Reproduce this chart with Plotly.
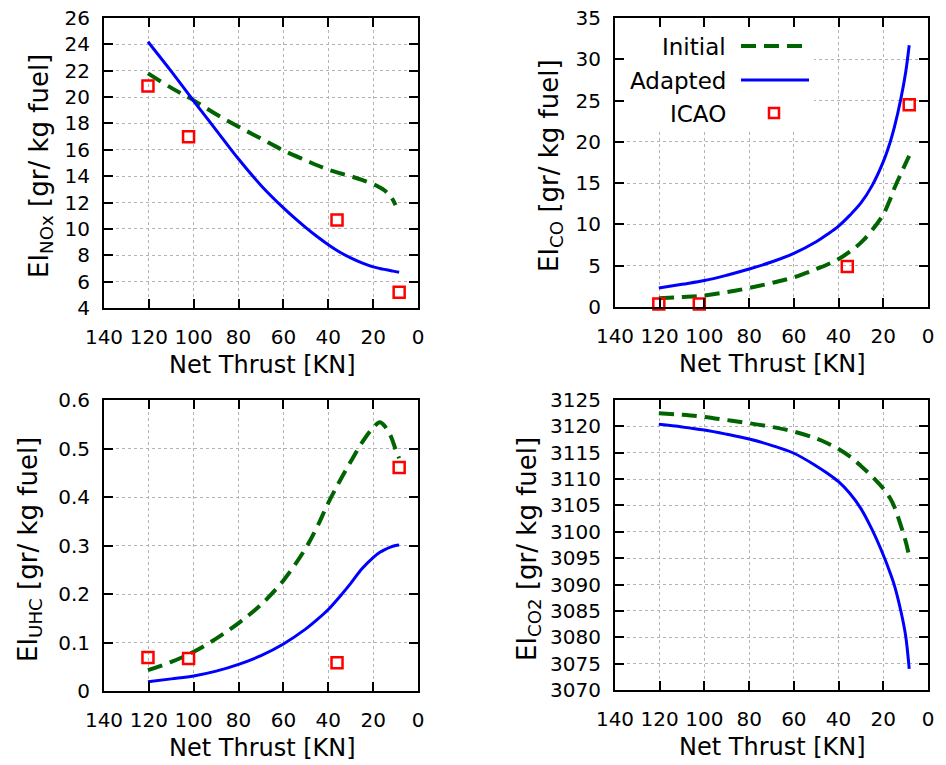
import plotly.graph_objects as go

# ---------------- data ----------------
thrust = [120.4, 110, 100, 90, 80, 70, 60, 50, 45, 40, 35, 30, 25, 20, 17, 15, 12, 10, 8.4]

nox_initial = [21.8, 20.7, 19.75, 18.7, 17.75, 16.85, 15.95, 15.2, 14.83, 14.5, 14.23, 14.0, 13.72, 13.4, 13.15, 12.93, 12.42, 11.8, None]
nox_adapted = [24.2, 21.95, 19.7, 17.5, 15.3, 13.3, 11.6, 10.1, 9.42, 8.8, 8.25, 7.8, 7.42, 7.12, 7.0, 6.93, 6.83, 6.76, 6.71]

co_initial = [1.05, 1.2, 1.4, 1.8, 2.3, 2.9, 3.6, 4.6, 5.15, 5.8, 6.7, 7.8, 9.3, 11.2, 13.0, 14.4, 16.2, 17.4, 18.3]
co_adapted = [2.3, 2.75, 3.2, 3.85, 4.6, 5.45, 6.5, 7.9, 8.8, 9.8, 11.1, 12.6, 14.7, 17.6, 19.9, 21.8, 25.4, 28.4, 31.7]

uhc_initial = [0.043, 0.06, 0.081, 0.108, 0.14, 0.178, 0.228, 0.295, 0.338, 0.388, 0.432, 0.473, 0.512, 0.543, 0.554, 0.547, 0.524, 0.498, 0.48]
uhc_adapted = [0.019, 0.025, 0.031, 0.041, 0.055, 0.073, 0.097, 0.128, 0.147, 0.168, 0.194, 0.222, 0.252, 0.275, 0.286, 0.291, 0.297, 0.3, 0.301]

co2_initial = [3122.5, 3122.2, 3121.8, 3121.2, 3120.6, 3119.9, 3119.0, 3117.7, 3116.8, 3115.7, 3114.3, 3112.5, 3110.5, 3108.2, 3106.4, 3104.7, 3101.0, 3098.2, 3095.4]
co2_adapted = [3120.4, 3119.9, 3119.3, 3118.5, 3117.6, 3116.4, 3114.9, 3112.5, 3111.1, 3109.5, 3107.3, 3104.4, 3100.4, 3095.6, 3092.3, 3089.8, 3084.7, 3080.3, 3074.0]

icao_thrust = [120.4, 102.3, 36.1, 8.4]
icao_nox = [20.84, 17.0, 10.67, 5.2]
icao_co = [0.36, 0.36, 4.9, 24.5]
icao_uhc = [0.069, 0.067, 0.058, 0.461]

series_names = ["Initial", "Adapted", "ICAO"]
y_titles = ["EI<sub>NOx</sub> [gr/ kg fuel]", "EI<sub>CO</sub> [gr/ kg fuel]",
            "EI<sub>UHC</sub> [gr/ kg fuel]", "EI<sub>CO2</sub> [gr/ kg fuel]"]
x_title = "Net Thrust [KN]"

# ---------------- styling ----------------
W, H = 946, 765
GREEN = "#006400"
BLUE = "#0000ff"
RED = "#ff0000"
FONT = "DejaVu Sans"

def px_x(p):
    return p / W

def px_y(p):
    return 1 - p / H

# plot frames in pixels: (left, right, top, bottom)
frames = [(104, 418, 18, 308), (615, 928, 18, 307), (104, 418, 400, 691), (615, 928, 400, 690)]
yranges = [[4, 26], [0, 35], [0, 0.6], [3070, 3125]]
ydticks = [2, 5, 0.1, 5]

fig = go.Figure()

panels = [
    (nox_initial, nox_adapted, icao_nox),
    (co_initial, co_adapted, icao_co),
    (uhc_initial, uhc_adapted, icao_uhc),
    (co2_initial, co2_adapted, None),
]

for i, (yi, ya, yc) in enumerate(panels):
    xa = "x" if i == 0 else f"x{i+1}"
    ya_ref = "y" if i == 0 else f"y{i+1}"
    fig.add_trace(go.Scatter(x=thrust, y=yi, mode="lines", name=series_names[0],
                             line=dict(color=GREEN, width=4, dash="15px,8px", shape="spline", smoothing=1.0),
                             xaxis=xa, yaxis=ya_ref, showlegend=False, connectgaps=False))
    fig.add_trace(go.Scatter(x=thrust, y=ya, mode="lines", name=series_names[1],
                             line=dict(color=BLUE, width=3, shape="spline", smoothing=1.0),
                             xaxis=xa, yaxis=ya_ref, showlegend=False))
    if yc is not None:
        fig.add_trace(go.Scatter(x=icao_thrust, y=yc, mode="markers", name=series_names[2],
                                 marker=dict(symbol="square-open", size=11, color=RED, line=dict(width=2.5, color=RED)),
                                 xaxis=xa, yaxis=ya_ref, showlegend=False, cliponaxis=False))

def axis_common():
    return dict(showline=True, linecolor="black", linewidth=2, mirror="ticks",
                ticks="inside", ticklen=9, tickwidth=2, tickcolor="black",
                showgrid=True, gridcolor="#b4b4b4", griddash="dot", gridwidth=1,
                zeroline=False, tickfont=dict(family=FONT, size=20, color="black"),
                ticklabelstandoff=8, automargin=False)

layout = dict(width=W, height=H, autosize=False, margin=dict(l=0, r=0, t=0, b=0, pad=0, autoexpand=False),
              paper_bgcolor="white", plot_bgcolor="white",
              font=dict(family=FONT, color="black"), showlegend=False)

annotations = []
for i, (l, r, t, b) in enumerate(frames):
    k = "" if i == 0 else str(i + 1)
    xa = axis_common()
    xa.update(domain=[px_x(l), px_x(r)], range=[140, 0], tick0=0, dtick=20,
              anchor="y" + k, ticklabelstandoff=10)
    ya = axis_common()
    ya.update(domain=[px_y(b), px_y(t)], range=yranges[i], tick0=0, dtick=ydticks[i],
              anchor="x" + k)
    layout["xaxis" + k] = xa
    layout["yaxis" + k] = ya
    # x title
    annotations.append(dict(text=x_title, xref="paper", yref="paper",
                            x=px_x((l + r) / 2 + 1), y=px_y(b + 57), xanchor="center", yanchor="middle",
                            showarrow=False, font=dict(family=FONT, size=24, color="black")))

ytitle_pos = [(40, 166), (550, 166), (29, 550), (528, 549)]
for i, (cx, cy) in enumerate(ytitle_pos):
    annotations.append(dict(text=y_titles[i], xref="paper", yref="paper", textangle=-90,
                            x=px_x(cx), y=px_y(cy), xanchor="center", yanchor="middle",
                            showarrow=False, font=dict(family=FONT, size=26, color="black")))

# legend (gnuplot style, text right-aligned with sample on the right) in CO panel
leg_y = [47, 81, 114]
for name, yy in zip(series_names, leg_y):
    annotations.append(dict(text=name, xref="paper", yref="paper", x=px_x(728), y=px_y(yy),
                            xanchor="right", yanchor="middle", showarrow=False,
                            font=dict(family=FONT, size=23, color="black")))

shapes = [
    dict(type="rect", xref="x2", yref="y2", x0=140, x1=51, y0=21.2, y1=35,
         fillcolor="white", line=dict(width=0), layer="between"),
    dict(type="line", xref="paper", yref="paper", x0=px_x(741), x1=px_x(809), y0=px_y(46), y1=px_y(46),
         line=dict(color=GREEN, width=4, dash="15px,8px")),
    dict(type="line", xref="paper", yref="paper", x0=px_x(741), x1=px_x(809), y0=px_y(80), y1=px_y(80),
         line=dict(color=BLUE, width=3)),
    dict(type="rect", xref="paper", yref="paper", x0=px_x(769), x1=px_x(779), y0=px_y(118), y1=px_y(108),
         line=dict(color=RED, width=2.5)),
]

layout["annotations"] = annotations
layout["shapes"] = shapes
fig.update_layout(**layout)

fig.write_html("out.html")
